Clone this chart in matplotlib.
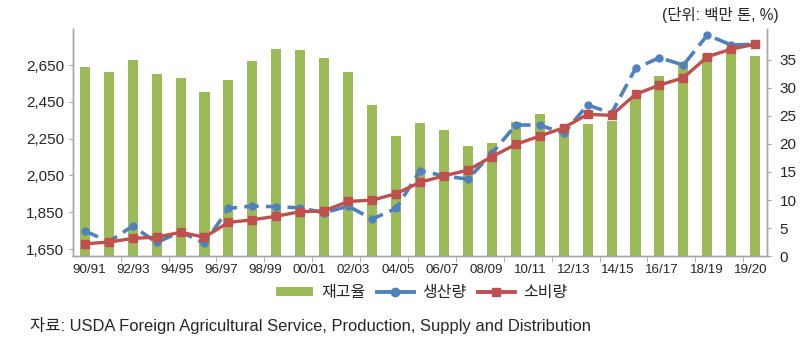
import numpy as np
import matplotlib
matplotlib.use("Agg")
import matplotlib.pyplot as plt
from matplotlib.patches import Patch
from matplotlib.lines import Line2D

plt.rcParams['font.family'] = ['Liberation Sans', 'Noto Sans CJK KR', 'DejaVu Sans']

# ---- data ----
seasons = ['90/91', '91/92', '92/93', '93/94', '94/95', '95/96', '96/97', '97/98',
           '98/99', '99/00', '00/01', '01/02', '02/03', '03/04', '04/05', '05/06',
           '06/07', '07/08', '08/09', '09/10', '10/11', '11/12', '12/13', '13/14',
           '14/15', '15/16', '16/17', '17/18', '18/19']
stock_ratio = [33.8, 32.9, 35.0, 32.4, 31.7, 29.3, 31.4, 34.8, 37.0, 36.8,
               35.4, 32.8, 27.0, 21.5, 23.8, 22.5, 19.6, 20.1, 23.9, 25.4,
               22.3, 23.5, 24.1, 28.1, 32.2, 34.7, 36.1, 37.1, 35.7]
production = [1749, 1690, 1775, 1686, 1744, 1681, 1871, 1884, 1880, 1874,
              1847, 1884, 1813, 1871, 2076, 2048, 2030, 2170, 2324, 2324,
              2279, 2433, 2388, 2632, 2690, 2650, 2813, 2759, 2763]
consumption = [1679, 1688, 1708, 1715, 1741, 1715, 1795, 1809, 1829, 1853,
               1858, 1909, 1916, 1951, 2013, 2048, 2079, 2152, 2219, 2264,
               2309, 2382, 2377, 2491, 2541, 2581, 2695, 2737, 2763]
tick_labels = ['90/91', '92/93', '94/95', '96/97', '98/99', '00/01', '02/03', '04/05',
               '06/07', '08/09', '10/11', '12/13', '14/15', '16/17', '18/19', '19/20']
left_ticks = [1650, 1850, 2050, 2250, 2450, 2650]
right_ticks = [0, 5, 10, 15, 20, 25, 30, 35]
legend_names = ['재고율', '생산량', '소비량']
unit_text = '(단위: 백만 톤, %)'
source_text = '자료: USDA Foreign Agricultural Service, Production, Supply and Distribution'

GREEN = '#9BBB59'
BLUE = '#4F81BD'
RED = '#C0504D'
AXC = '#A6A6A6'
TXT = '#262626'

fig = plt.figure(figsize=(8.0, 3.41), dpi=100)
fig.patch.set_facecolor('white')
ax = fig.add_axes([0.091, 0.249, 0.868, 0.666])
ax2 = ax.twinx()

x = np.arange(len(seasons))

# bars on primary axes (right side scale)
ax.bar(x, stock_ratio, width=0.42, color=GREEN, zorder=2)
ax.set_ylim(0, 40.5)
ax.set_xlim(-0.5, len(seasons) - 0.5)
ax.yaxis.tick_right()
ax.set_yticks(right_ticks)
ax.set_yticklabels([str(v) for v in right_ticks])

# lines on twin axes (left side scale)
ax2.plot(x, production, color=BLUE, lw=2.6, ls=(0, (4.0, 2.0)), marker='o', ms=5,
         zorder=3)
ax2.plot(x, consumption, color=RED, lw=2.4, marker='s', ms=6, zorder=4)
ax2.set_ylim(1612, 2846)
ax2.yaxis.tick_left()
ax2.set_yticks(left_ticks)
ax2.set_yticklabels([f'{v:,}' for v in left_ticks])

for a in (ax, ax2):
    a.spines['top'].set_visible(False)
    for s in ('left', 'right', 'bottom'):
        a.spines[s].set_color(AXC)
        a.spines[s].set_linewidth(1.0)
    a.set_facecolor('none')

ax.tick_params(axis='y', which='both', direction='out', length=3, color=AXC,
               labelsize=11, labelcolor=TXT, pad=6)
ax2.tick_params(axis='y', which='both', direction='out', length=3, color=AXC,
                labelsize=11, labelcolor=TXT, pad=3)

# x ticks: labels spread evenly, tick marks every 2 categories
ax.set_xticks(np.linspace(0.18, 27.8, len(tick_labels)))
ax.set_xticklabels(tick_labels)
ax.set_xticks(np.arange(1.5, len(seasons) - 0.5, 2), minor=True)
ax.tick_params(axis='x', which='major', length=0, labelsize=9.6, labelcolor=TXT, pad=6)
ax.tick_params(axis='x', which='minor', length=4, color=AXC, direction='out')

# unit text
fig.text(0.973, 0.955, unit_text, ha='right', va='center', fontsize=11.2, color=TXT)

# legend
handles = [Patch(facecolor=GREEN, edgecolor='none'),
           Line2D([], [], color=BLUE, lw=2.8, marker='o', ms=6),
           Line2D([], [], color=RED, lw=2.8, marker='s', ms=6)]
fig.legend(handles, legend_names, loc='center', bbox_to_anchor=(0.527, 0.142), ncol=3,
           frameon=False, fontsize=11.5, handlelength=2.3, handleheight=0.55,
           columnspacing=0.75, handletextpad=0.5, labelcolor=TXT)

# source
fig.text(0.037, 0.045, source_text, ha='left', va='center', fontsize=11.9, color=TXT)

fig.savefig('out.png', dpi=100, facecolor='white')
